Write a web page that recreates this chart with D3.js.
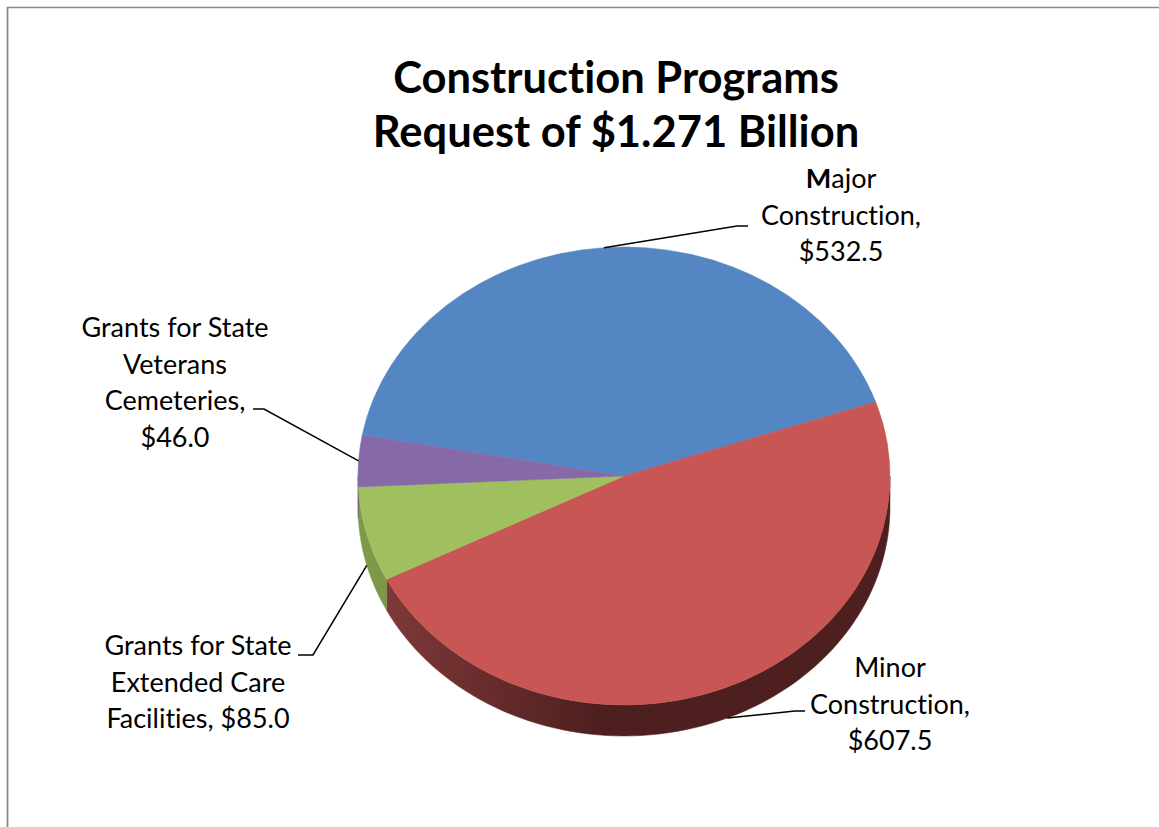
<!DOCTYPE html>
<html>
<head>
<meta charset="utf-8">
<script src="https://cdn.jsdelivr.net/npm/d3@7/dist/d3.min.js"></script>
<style>
  html, body { margin: 0; padding: 0; background: #fff; }
  svg { display: block; }
  text { font-family: Lato, "Open Sans", sans-serif; fill: #000; font-variant-ligatures: none; font-feature-settings: "liga" 0; }
</style>
</head>
<body>
<svg id="chart" width="1159" height="827"></svg>
<script>
// Construction programs budget request (millions of dollars)
const categories = [
  "Major Construction",
  "Minor Construction",
  "Grants for State Extended Care Facilities",
  "Grants for State Veterans Cemeteries"
];
const values = [532.5, 607.5, 85.0, 46.0];
const colors = ["#5586c4", "#c75654", "#a0bf5f", "#866aa8"];
const sideColors = [["#3a6090", "#2c4a70"], ["#7f3838", "#4e1f1f"], ["#7c9a48", "#6b8739"], ["#63497f", "#55406e"]];
// label text, "{v}" is replaced by the formatted value
const labelLines = [
  ["Major", "Construction,", "{v}"],
  ["Minor", "Construction,", "{v}"],
  ["Grants for State", "Extended Care", "Facilities, {v}"],
  ["Grants for State", "Veterans", "Cemeteries,", "{v}"]
];
const titleLines = ["Construction Programs", "Request of $1.271 Billion"];

const svg = d3.select("#chart");
const W = 1159, H = 827;

// chart frame (top and left edges)
svg.append("line").attr("x1", 7).attr("y1", 7.5).attr("x2", W).attr("y2", 7.5)
  .attr("stroke", "#8a8a8a").attr("stroke-width", 1.5);
svg.append("line").attr("x1", 7.5).attr("y1", 7).attr("x2", 7.5).attr("y2", H)
  .attr("stroke", "#8a8a8a").attr("stroke-width", 1.8);

// title
svg.append("text")
  .attr("x", 616).attr("y", 93)
  .attr("text-anchor", "middle")
  .style("font-size", "43.5px").style("font-weight", "bold")
  .selectAll("tspan").data(titleLines).join("tspan")
  .attr("x", 616).attr("dy", (d, i) => i === 0 ? 0 : 54)
  .text(d => d);

// pie geometry: tilted disc
const cx = 624, cy = 476, rx = 266, ry = 229, depth = 31;
const startDeg = -79.7;
const pie = d3.pie().sort(null)
  .startAngle(startDeg * Math.PI / 180)
  .endAngle(startDeg * Math.PI / 180 + 2 * Math.PI);
const arcs = pie(values);

const ex = a => cx + rx * Math.sin(a);
const ey = a => cy - ry * Math.cos(a);

const defs = svg.append("defs");
sideColors.forEach((c, i) => {
  const g = defs.append("linearGradient").attr("id", "side" + i)
    .attr("gradientUnits", "userSpaceOnUse")
    .attr("x1", cx - rx).attr("y1", 0).attr("x2", cx).attr("y2", 0);
  g.append("stop").attr("offset", "0%").attr("stop-color", c[0]);
  g.append("stop").attr("offset", "100%").attr("stop-color", c[1]);
});
// red wall is lightest near its cut edge and darkens toward the front
defs.select("#side1").attr("x1", 388).attr("x2", 600);

// outer side walls for the front half of the disc
const norm = a => { let t = a % (2 * Math.PI); if (t < 0) t += 2 * Math.PI; return t; };
const line = d3.line();
const walls = svg.append("g");
arcs.forEach((d, i) => {
  let a0 = norm(d.startAngle), a1 = a0 + (d.endAngle - d.startAngle);
  const lo = Math.max(a0, Math.PI / 2), hi = Math.min(a1, 3 * Math.PI / 2);
  if (hi <= lo) return;
  const n = 80;
  const top = d3.range(n + 1).map(k => lo + (hi - lo) * k / n);
  const pts = top.map(a => [ex(a), ey(a)])
    .concat(top.slice().reverse().map(a => [ex(a), ey(a) + depth]));
  walls.append("path")
    .attr("d", line(pts) + "Z")
    .attr("fill", `url(#side${i})`)
    .attr("stroke", `url(#side${i})`).attr("stroke-width", 0.5);
});

// top faces
const arc = d3.arc().innerRadius(0).outerRadius(rx);
svg.append("g")
  .attr("transform", `translate(${cx},${cy}) scale(1,${ry / rx})`)
  .selectAll("path").data(arcs).join("path")
  .attr("d", arc)
  .attr("fill", (d, i) => colors[i])
  .attr("stroke", (d, i) => colors[i]).attr("stroke-width", 0.6);

// data labels with leader lines
const fmt = v => "$" + d3.format(".1f")(v);
const labelPos = [
  { x: 841, y: 188, elbow: [[737, 226], [748, 226]] },
  { x: 890, y: 677, elbow: [[795, 711], [805, 711]] },
  { x: 198, y: 655, elbow: [[313, 655], [298, 655]] },
  { x: 175, y: 337, elbow: [[264, 409], [253, 409]] }
];
const lh = 36.5;
arcs.forEach((d, i) => {
  const mid = (d.startAngle + d.endAngle) / 2;
  const m = norm(mid);
  const front = m > Math.PI / 2 && m < 3 * Math.PI / 2;
  const start = [ex(mid), ey(mid) + (front ? depth : 0)];
  const p = labelPos[i];
  svg.append("path")
    .attr("d", line([start].concat(p.elbow)))
    .attr("fill", "none").attr("stroke", "#000").attr("stroke-width", 1.5);

  const t = svg.append("text").attr("text-anchor", "middle").style("font-size", "27px");
  labelLines[i].forEach((s, k) => {
    const str = s.replace("{v}", fmt(values[i]));
    const ts = t.append("tspan").attr("x", p.x).attr("y", p.y + k * lh);
    if (i === 0 && k === 0) {
      ts.append("tspan").style("font-weight", "bold").text(str[0]);
      ts.append("tspan").text(str.slice(1));
    } else {
      ts.text(str);
    }
  });
});
</script>
</body>
</html>
